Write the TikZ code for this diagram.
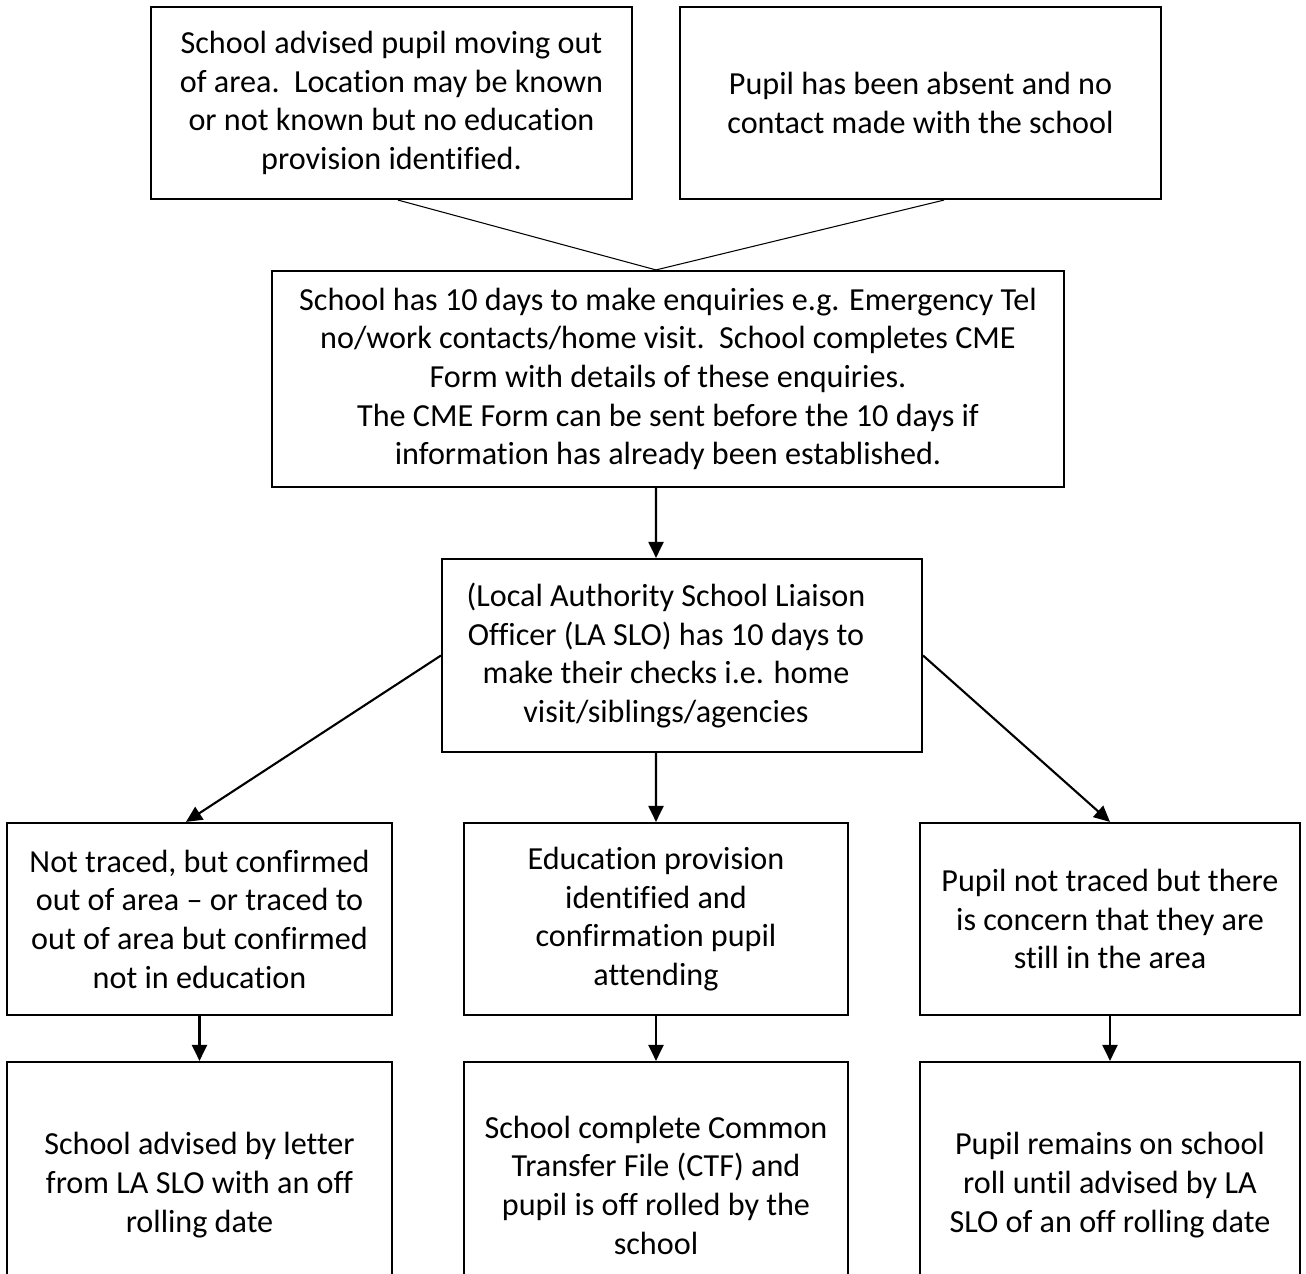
\documentclass[tikz,border=0pt]{standalone}
\usepackage{fontspec}
\setmainfont{Carlito}[Ligatures=NoCommon]
\usetikzlibrary{arrows.meta}

\begin{document}
\begin{tikzpicture}[x=0.02cm, y=-0.02cm,
  box/.style={draw, line width=1.25pt, align=center, inner sep=0pt, font=\fontsize{18.3}{22}\selectfont},
  txt/.style={align=center, inner sep=0pt, font=\fontsize{18.3}{22}\selectfont},
  link/.style={line width=0.6pt},
  arr/.style={-{Triangle[length=0.32cm, width=0.3cm]}, line width=1.2pt}]
\useasboundingbox (0,0) rectangle (1306,1274);
\clip (0,0) rectangle (1306,1274);
\node[box, minimum width=9.62cm, minimum height=3.84cm] (away) at (391.5,103)
  {School advised pupil moving out\\ of area.\ \ Location may be known\\ or not known but no education\\ provision identified.};
\node[box, minimum width=9.62cm, minimum height=3.84cm] (absent) at (920.5,103)
  {Pupil has been absent and no\\ contact made with the school};
\node[box, minimum width=15.84cm, minimum height=4.32cm] (enquiries) at (668,379)
  {School has 10 days to make enquiries e.g. Emergency Tel\\ no/work contacts/home visit.\ \ School completes CME\\ Form with details of these enquiries.\\ The CME Form can be sent before the 10 days if\\ information has already been established.};
\node[box, minimum width=9.6cm, minimum height=3.86cm] (slo) at (682,655.5) {};
\node[txt] (slotext) at (666,655.5)
  {(Local Authority School Liaison\\ Officer (LA SLO) has 10 days to\\ make their checks i.e. home\\ visit/siblings/agencies};
\node[box, minimum width=7.7cm, minimum height=3.84cm] (outarea) at (199.5,919)
  {Not traced, but confirmed\\ out of area -- or traced to\\ out of area but confirmed\\ not in education};
\node[box, minimum width=7.68cm, minimum height=3.84cm] (provision) at (656,919)
  {Education provision\\ identified and\\ confirmation pupil\\ attending};
\node[box, minimum width=7.6cm, minimum height=3.84cm] (concern) at (1110,919)
  {Pupil not traced but there\\ is concern that they are\\ still in the area};
\node[box, minimum width=7.7cm, minimum height=4.92cm] (letter) at (199.5,1185)
  {School advised by letter\\ from LA SLO with an off\\ rolling date};
\node[box, minimum width=7.68cm, minimum height=4.92cm] (ctf) at (656,1185)
  {School complete Common\\ Transfer File (CTF) and\\ pupil is off rolled by the\\ school};
\node[box, minimum width=7.6cm, minimum height=4.92cm] (remains) at (1110,1185)
  {Pupil remains on school\\ roll until advised by LA\\ SLO of an off rolling date};
\draw[link] ([xshift=0.13cm]away.south) -- ([xshift=-0.24cm]enquiries.north);
\draw[link] ([xshift=0.47cm]absent.south) -- ([xshift=-0.24cm]enquiries.north);
\draw[arr] ([xshift=-0.24cm]enquiries.south) -- ([xshift=-0.52cm]slo.north);
\draw[arr] (slo.west) -- ([xshift=-0.27cm]outarea.north);
\draw[arr] ([xshift=-0.52cm]slo.south) -- (provision.north);
\draw[arr] (slo.east) -- (concern.north);
\draw[arr] (outarea.south) -- (letter.north);
\draw[arr] (provision.south) -- (ctf.north);
\draw[arr] (concern.south) -- (remains.north);
\end{tikzpicture}
\end{document}
